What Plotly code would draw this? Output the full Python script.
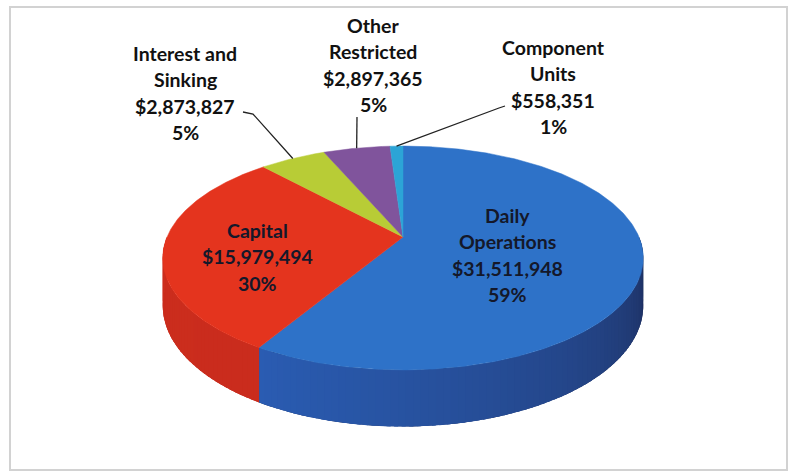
import numpy as np
import plotly.graph_objects as go

# ---- data ----
categories = ["Daily Operations", "Capital", "Interest and Sinking",
              "Other Restricted", "Component Units"]
amounts = [31511948, 15979494, 2873827, 2897365, 558351]
label_lines = [["Daily", "Operations"], ["Capital"], ["Interest and", "Sinking"],
               ["Other", "Restricted"], ["Component", "Units"]]

# ---- styling ----
top_colors = [(46, 114, 200), (228, 52, 30), (184, 204, 54), (128, 84, 156), (44, 164, 214)]
side_light = [(42, 92, 178), (206, 46, 30), (160, 178, 44), (105, 66, 130), (36, 136, 180)]
side_dark = [(26, 34, 72), (192, 40, 26), (150, 165, 40), (95, 60, 118), (30, 110, 150)]

# pie placement in pixel space (x right, y down)
CX, CY = 403.0, 237.0      # centre of top face
A, B = 236.0, 108.0        # radii of the tilted disc
K = 0.1875                 # perspective strength
H = 46.0                   # thickness of the disc

# text placement: (x centre, y of first line, inside?)
label_pos = [(507, 215, True), (257, 230, True), (185, 53, False),
             (373, 25, False), (553, 47, False)]
LINE_STEP = 26.5
FONT_SIZE = 19.5
# where each outside leader line leaves its label
leader_start = {2: [(243, 112), (253, 114)], 3: [(357, 117)], 4: [(505, 106), (499, 108)]}


def rim(theta_deg, drop=0.0):
    """Project a point on the disc edge (theta clockwise from 12 o'clock)."""
    t = np.radians(theta_deg)
    u, v = np.sin(t), -np.cos(t)
    w = 1 - K * v
    return CX + A * u / w, CY + (B * v + drop) / w


def rgb(c):
    return "rgb(%d,%d,%d)" % tuple(int(round(x)) for x in c)


def wall(ta, tb, npts=6):
    ts = np.linspace(ta, tb, npts)
    xt, yt = rim(ts)
    xb, yb = rim(ts[::-1], H)
    return np.concatenate([xt, xb, xt[:1]]), np.concatenate([yt, yb, yt[:1]])


total = float(sum(amounts))
fractions = [a / total for a in amounts]
bounds = np.concatenate([[0.0], np.cumsum(fractions) * 360.0])

fig = go.Figure()

# ---- visible side walls (front half of the disc) ----
for i in range(len(amounts)):
    a0, a1 = max(bounds[i], 90.0), min(bounds[i + 1], 270.0)
    if a1 <= a0:
        continue
    # base wall in the darkest shade so no gaps show between strips
    xw, yw = wall(a0, a1, 60)
    fig.add_trace(go.Scatter(x=xw, y=yw, mode="lines", fill="toself",
                             fillcolor=rgb(side_dark[i]), line=dict(width=0),
                             hoverinfo="skip", showlegend=False))
    n = max(2, int(np.ceil((a1 - a0) / 1.5)))
    edges = np.linspace(a0, a1, n + 1)
    span = max(bounds[i + 1], 90.0) - 90.0
    for j in range(n):
        ta, tb = edges[j], edges[j + 1]
        mid = 0.5 * (ta + tb)
        # darker toward the right-hand side of the wall
        frac = np.clip((mid - 90.0) / span, 0, 1) if span > 0 else 1.0
        m = frac ** 0.6
        col = [d + (l - d) * m for l, d in zip(side_light[i], side_dark[i])]
        xw, yw = wall(ta, min(tb + 0.8, a1), 4)
        fig.add_trace(go.Scatter(x=xw, y=yw, mode="lines", fill="toself",
                                 fillcolor=rgb(col), line=dict(width=0),
                                 hoverinfo="skip", showlegend=False))

# ---- top face slices ----
for i, name in enumerate(categories):
    ts = np.linspace(bounds[i], bounds[i + 1], max(3, int((bounds[i + 1] - bounds[i]) * 2)))
    xs, ys = rim(ts)
    fig.add_trace(go.Scatter(
        x=np.concatenate([[CX], xs, [CX]]), y=np.concatenate([[CY], ys, [CY]]),
        mode="lines", fill="toself", fillcolor=rgb(top_colors[i]),
        line=dict(color=rgb(top_colors[i]), width=0.5),
        name=name, hoverinfo="name", showlegend=False))

# ---- leader lines to the small slices ----
for i, pts in leader_start.items():
    mid = 0.5 * (bounds[i] + bounds[i + 1])
    ex, ey = rim(mid)
    fig.add_trace(go.Scatter(
        x=[p[0] for p in pts] + [ex], y=[p[1] for p in pts] + [ey],
        mode="lines", line=dict(color="#222222", width=1.3),
        hoverinfo="skip", showlegend=False))

# ---- data labels ----
for i, amt in enumerate(amounts):
    x0, y0, inside = label_pos[i]
    pct = round(fractions[i] * 100)
    lines = label_lines[i] + ["${:,}".format(amt), "{}%".format(pct)]
    color = "#14182a" if inside else "#111111"
    for k, txt in enumerate(lines):
        fig.add_annotation(x=x0, y=y0 + k * LINE_STEP, text=txt, showarrow=False,
                           xanchor="center", yanchor="middle",
                           font=dict(family="Lato", size=FONT_SIZE, color=color,
                                     weight="bold"))

# chart-area border
fig.add_shape(type="rect", x0=10, y0=7, x1=787, y1=470,
              line=dict(color="#d2d2d2", width=2), layer="below")

fig.update_layout(
    width=788, height=471, margin=dict(l=0, r=0, t=0, b=0),
    paper_bgcolor="white", plot_bgcolor="white",
    xaxis=dict(range=[0, 788], visible=False, fixedrange=True),
    yaxis=dict(range=[471, 0], visible=False, fixedrange=True),
)

fig.write_html("out.html")
